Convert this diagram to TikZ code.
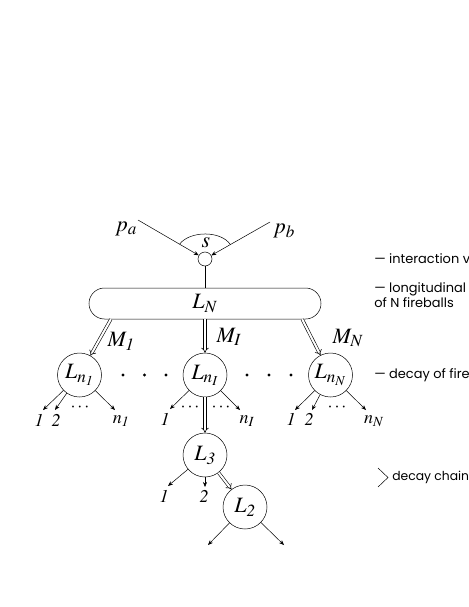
\documentclass[tikz,border=0pt]{standalone}
\usepackage{mathptmx}
\usepackage[no-math]{fontspec}
\newfontfamily\notefont{Poppins}
\renewcommand\defaultscriptratio{.78}
\renewcommand\defaultscriptscriptratio{.62}
\usetikzlibrary{arrows.meta,calc}
\tikzset{
	fb/.style = {draw, circle, minimum size=44bp, inner sep=0pt, font=\fontsize{22}{22}\selectfont},
	arr/.style = {-{Stealth[length=5bp,width=4bp]}},
	dbl/.style = {double, double distance=2bp, line width=0.6bp, -{Implies}},
	lbl/.style = {font=\fontsize{22}{22}\selectfont, inner sep=0pt},
	leaf/.style = {font=\fontsize{18}{18}\selectfont, inner sep=0pt},
	note/.style = {font=\notefont\fontsize{13}{12.5}\selectfont, anchor=west, inner sep=0pt, align=left}
}
\begin{document}
\begin{tikzpicture}[x=1bp, y=-1bp, line width=0.5bp]
	\useasboundingbox (0,0) rectangle (469,607);
	\clip (0,0) rectangle (469,607);
	\node [draw, circle, minimum size=14bp, inner sep=0pt] (vtx) at (205,259) {};
	\coordinate (pa0) at (138,220);
	\coordinate (pb0) at (270,222);
	\node [lbl] (pa) at (126,229) {$p_a$};
	\node [lbl] (pb) at (284,231) {$p_b$};
	\draw [arr] (pa0) -- (vtx);
	\draw [arr] (pb0) -- (vtx);
	\draw ($(pa0)!0.62!(vtx)$) .. controls (190,230.5) and (221,230.5) .. ($(pb0)!0.61!(vtx)$);
	\node [lbl] (s) at (206,243) {$s$};
	\node [draw, rounded corners=15.5bp, minimum width=232bp, minimum height=31bp, lbl] (LN) at (205,303.5) {$L_N$};
	\draw (vtx) -- (LN);
	\node [fb] (n1) at (79.5,375) {$L_{n_{\mathit{1}}}$};
	\node [fb] (nI) at (205,375) {$L_{n_I}$};
	\node [fb] (nN) at (330.5,375) {$L_{n_N}$};
	\draw [dbl] ($(LN.south west)!0.095!(LN.south east)$) -- (n1);
	\draw [dbl] (LN) -- (nI);
	\draw [dbl] ($(LN.south west)!0.918!(LN.south east)$) -- (nN);
	\node [lbl] (m1) at (121,341) {$M_{\mathit{1}}$};
	\node [lbl] (mI) at (229,337) {$M_I$};
	\node [lbl] (mN) at (348,338) {$M_N$};
	\foreach \x in {123,144.5,166,247,269,291}
		\fill (\x,375) circle (1.7bp);
	% leaves of the first fireballs
	\coordinate (a1) at (43,410); \coordinate (a2) at (55,410); \coordinate (a3) at (115,410);
	\coordinate (b1) at (170,409); \coordinate (b3) at (240,410);
	\coordinate (c1) at (295,410); \coordinate (c2) at (312,410); \coordinate (c3) at (366,410);
	\foreach \p in {a1,a2,a3} \draw [arr] (n1) -- (\p);
	\foreach \p in {b1,b3} \draw [arr] (nI) -- (\p);
	\foreach \p in {c1,c2,c3} \draw [arr] (nN) -- (\p);
	\node [leaf] (ta1) at (39,420) {$\mathit{1}$};
	\node [leaf] (ta2) at (56,420) {$\mathit{2}$};
	\node [leaf] (ta0) at (80,408) {$\cdots$};
	\node [leaf] (ta3) at (121,421) {$n_{\mathit{1}}$};
	\node [leaf] (tb1) at (165,419) {$\mathit{1}$};
	\node [leaf] (tb0) at (190,408) {$\cdots$};
	\node [leaf] (tb4) at (221,408) {$\cdots$};
	\node [leaf] (tb3) at (247,421) {$n_I$};
	\node [leaf] (tc1) at (291,419) {$\mathit{1}$};
	\node [leaf] (tc2) at (309,419) {$\mathit{2}$};
	\node [leaf] (tc0) at (337,408) {$\cdots$};
	\node [leaf] (tc3) at (374,421) {$n_N$};
	% the decay chain
	\node [fb] (L3) at (205,455) {$L_{\mathit{3}}$};
	\node [fb] (L2) at (245,507) {$L_{\mathit{2}}$};
	\draw [dbl] (nI) -- (L3);
	\draw [dbl] (L3) -- (L2);
	\coordinate (d1) at (168,486); \coordinate (d2) at (205,487);
	\coordinate (e1) at (208,545); \coordinate (e2) at (284,545);
	\foreach \p in {d1,d2} \draw [arr] (L3) -- (\p);
	\foreach \p in {e1,e2} \draw [arr] (L2) -- (\p);
	\node [leaf] (td1) at (164,496) {$\mathit{1}$};
	\node [leaf] (td2) at (204,496) {$\mathit{2}$};
	% notes on the right
	\node [note] (w1) at (374,259) {— interaction v};
	\node [note] (w2) at (374,295) {— longitudinal\\of N fireballs};
	\node [note] (w3) at (374,375) {— decay of fire};
	\draw (378,468) -- (388,477.5) -- (378,487);
	\node [note, font=\notefont\fontsize{12.4}{12.5}\selectfont] (w4) at (392,477.5) {decay chain};
\end{tikzpicture}
\end{document}
